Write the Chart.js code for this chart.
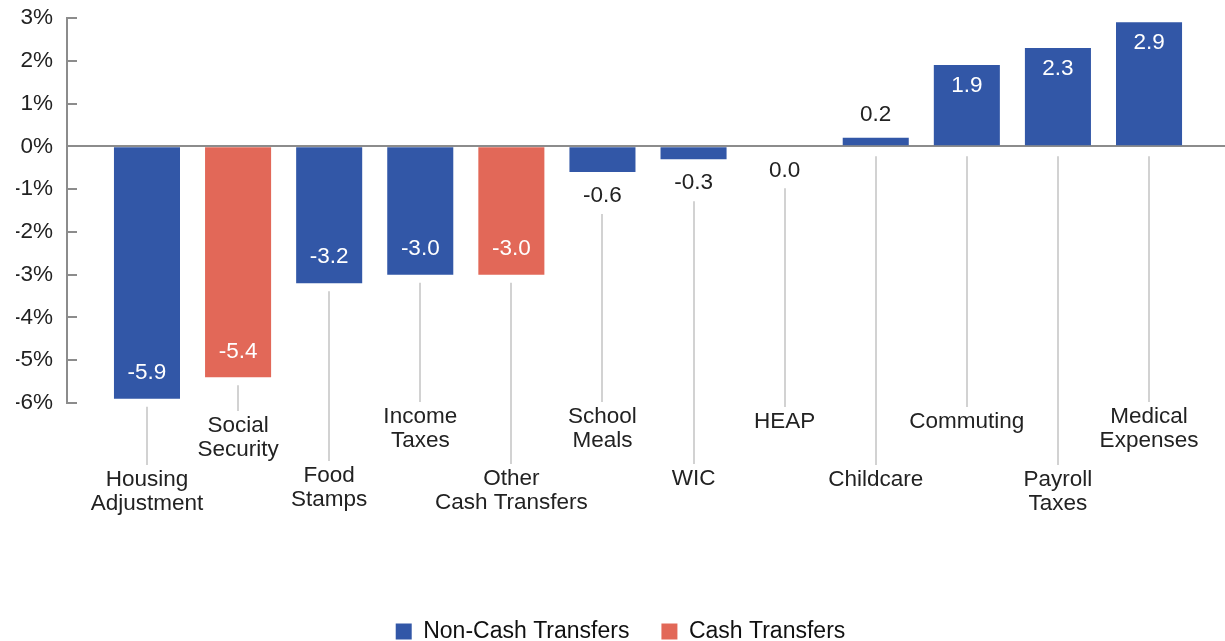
<!DOCTYPE html>
<html>
<head>
<meta charset="utf-8">
<script src="https://cdn.jsdelivr.net/npm/chart.js@4/dist/chart.umd.min.js"></script>
<style>
  html, body { margin: 0; padding: 0; background: #fff; }
  #wrap { width: 1225px; height: 641px; position: relative; }
</style>
</head>
<body>
<div id="wrap"><canvas id="chart"></canvas></div>
<script>
const categories = ['Housing\nAdjustment', 'Social\nSecurity', 'Food\nStamps', 'Income\nTaxes',
  'Other\nCash Transfers', 'School\nMeals', 'WIC', 'HEAP', 'Childcare', 'Commuting',
  'Payroll\nTaxes', 'Medical\nExpenses'];
const values = [-5.9, -5.4, -3.2, -3.0, -3.0, -0.6, -0.3, 0.0, 0.2, 1.9, 2.3, 2.9];
const transferType = ['non-cash', 'cash', 'non-cash', 'non-cash', 'cash', 'non-cash',
  'non-cash', 'non-cash', 'non-cash', 'non-cash', 'non-cash', 'non-cash'];
const seriesNames = { 'non-cash': 'Non-Cash Transfers', 'cash': 'Cash Transfers' };
const yMin = -6, yMax = 3;

// look
const BLUE = '#3257a7';
const RED = '#e26858';
const AXIS_GREY = '#8c8c8c';
const STEM_GREY = '#d2d2d2';
const TEXT = '#222';
const FONT = '"Liberation Sans", Arial, Helvetica, sans-serif';
const SIZE = 22.5;
// how far below the plot each category name starts (staggered rows)
const labelDrop = [77, 23, 73, 14, 76, 14, 76, 19, 77, 19, 77, 14];

const points = type => values
  .map((v, i) => ({ x: i, y: v }))
  .filter((p, i) => transferType[i] === type);

const annotate = {
  id: 'annotate',
  afterDatasetsDraw(chart) {
    const { ctx, chartArea, scales: { x, y } } = chart;
    const zero = y.getPixelForValue(0);
    ctx.save();

    // tick marks point into the plot
    ctx.strokeStyle = AXIS_GREY;
    ctx.lineWidth = 2;
    y.ticks.forEach(t => {
      const py = Math.round(y.getPixelForValue(t.value));
      ctx.beginPath();
      ctx.moveTo(chartArea.left, py);
      ctx.lineTo(chartArea.left + 10, py);
      ctx.stroke();
    });

    ctx.font = SIZE + 'px ' + FONT;
    ctx.textAlign = 'center';
    ctx.textBaseline = 'middle';

    values.forEach((v, i) => {
      const px = x.getPixelForValue(i);
      const end = y.getPixelForValue(v);
      const inside = Math.abs(v) >= 1;
      let ly, stemTop;
      if (inside) {
        ly = v > 0 ? end + 21 : end - 26;
        stemTop = v > 0 ? zero + 10 : end + 8;
        ctx.fillStyle = '#fff';
      } else {
        ly = v > 0 ? end - 23 : end + 24;
        stemTop = v > 0 ? zero + 10 : ly + 18;
        ctx.fillStyle = TEXT;
      }
      ctx.fillText(v.toFixed(1), px, ly);

      const textTop = chartArea.bottom + labelDrop[i];
      ctx.strokeStyle = STEM_GREY;
      ctx.lineWidth = 2;
      ctx.beginPath();
      ctx.moveTo(Math.round(px), stemTop);
      ctx.lineTo(Math.round(px), textTop - 15);
      ctx.stroke();

      ctx.fillStyle = TEXT;
      categories[i].split('\n').forEach((ln, k) => ctx.fillText(ln, px, textTop + k * 24));
    });
    ctx.restore();
  }
};

new Chart(document.getElementById('chart'), {
  type: 'bar',
  data: {
    datasets: [
      { label: seriesNames['non-cash'], data: points('non-cash'), backgroundColor: BLUE },
      { label: seriesNames['cash'], data: points('cash'), backgroundColor: RED }
    ]
  },
  options: {
    responsive: true,
    maintainAspectRatio: false,
    animation: false,
    layout: { padding: { top: 18, left: 16, right: 0, bottom: 0 } },
    datasets: {
      bar: { grouped: false, borderWidth: 0, barPercentage: 0.725, categoryPercentage: 1 }
    },
    scales: {
      x: {
        type: 'linear',
        offset: false,
        min: -0.878,
        max: 11.834,
        // one tick per category so bar widths follow the category spacing
        afterBuildTicks: s => { s.ticks = categories.map((c, i) => ({ value: i })); },
        ticks: { display: false },
        grid: { display: false },
        border: { display: false },
        afterFit: s => { s.height = 185; }
      },
      y: {
        min: yMin,
        max: yMax,
        ticks: {
          stepSize: 1,
          padding: 14,
          color: TEXT,
          font: { family: FONT, size: SIZE },
          callback: v => v + '%'
        },
        grid: {
          drawTicks: false,
          lineWidth: 2,
          color: c => c.tick && c.tick.value === 0 ? AXIS_GREY : 'transparent'
        },
        border: { display: true, color: AXIS_GREY, width: 2 },
        afterFit: s => { s.width = 51; s.paddingTop = 0; s.paddingBottom = 0; }
      }
    },
    plugins: {
      tooltip: { enabled: false },
      legend: {
        position: 'bottom',
        maxHeight: 53,
        labels: {
          boxWidth: 16,
          boxHeight: 16,
          padding: 32,
          color: '#111',
          font: { family: FONT, size: 23 }
        }
      }
    }
  },
  plugins: [annotate]
});
</script>
</body>
</html>
